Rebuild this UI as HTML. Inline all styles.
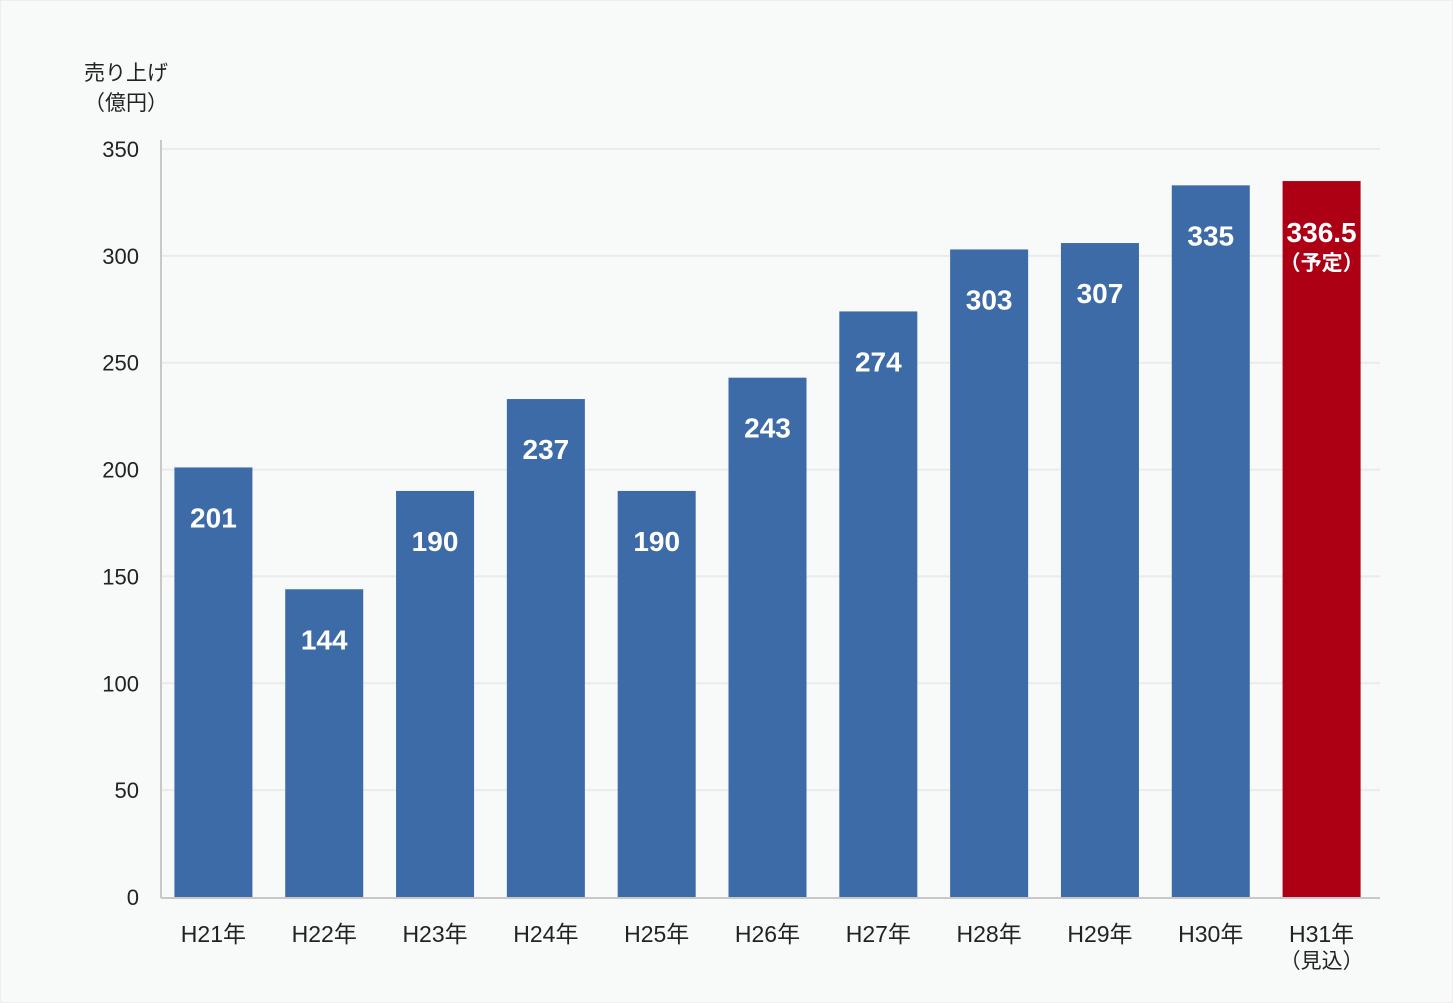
<!DOCTYPE html>
<html><head><meta charset="utf-8"><style>
html,body{margin:0;padding:0;background:#f8f9f9;}
svg{display:block;font-family:"Liberation Sans","Noto Sans CJK JP",sans-serif;}
</style></head><body>
<svg id="chart" width="1453" height="1003" viewBox="0 0 1453 1003" xmlns="http://www.w3.org/2000/svg">
<rect x="0.5" y="0.5" width="1452" height="1002" fill="#f8f9f9" stroke="#eeeeee"/>
<text x="126" y="80" text-anchor="middle" font-size="21" fill="#222">売り上げ</text>
<text x="126" y="110" text-anchor="middle" font-size="21" fill="#222">（億円）</text>
<g id="grid"></g>
<g id="bars"></g>
<line x1="161" y1="140" x2="161" y2="898" stroke="#c8c8c8" stroke-width="2"/>
<line x1="161" y1="898" x2="1380" y2="898" stroke="#c8c8c8" stroke-width="2"/>
</svg>
<script>
const categories=["H21年","H22年","H23年","H24年","H25年","H26年","H27年","H28年","H29年","H30年","H31年"];
const values=[201,144,190,233,190,243,274,303,306,333,335];
const valueLabels=["201","144","190","237","190","243","274","303","307","335","336.5"];
const yTicks=[0,50,100,150,200,250,300,350];
const NS="http://www.w3.org/2000/svg";
const x0=161,x1=1380,yBase=897,yTop=149,yMax=350;
const band=(x1-x0)/categories.length,bw=78;
function y(v){return yBase-(v/yMax)*(yBase-yTop);}
function xc(i){return x0+band*(i+0.5)-3;}
function mk(t,a,p){const e=document.createElementNS(NS,t);for(const k in a)e.setAttribute(k,a[k]);p.appendChild(e);return e;}
const grid=document.getElementById('grid'),bars=document.getElementById('bars');
yTicks.forEach(t=>{
  if(t>0){const l=mk('line',{x1:x0,x2:x1,y1:y(t),y2:y(t),stroke:'#ebebeb','stroke-width':2},grid);
  
  }
  const tx=mk('text',{x:139,y:y(t)+8,'text-anchor':'end','font-size':22,fill:'#222'},grid);
  tx.textContent=t;
  
  
});
categories.forEach((c,i)=>{
  const last=i===categories.length-1;
  const r=mk('rect',{x:xc(i)-bw/2,y:y(values[i]),width:bw,height:yBase-y(values[i]),fill:last?'#ad0014':'#3d6ba7'},bars);
  
  
  const vl=mk('text',{x:xc(i),y:y(values[i])+60,'text-anchor':'middle','font-size':28,'font-weight':'bold',fill:'#fff'},bars);
  vl.textContent=valueLabels[i];
  
  
  if(last){vl.setAttribute('y',y(values[i])+61);
    const s=mk('text',{x:xc(i),y:y(values[i])+89,'text-anchor':'middle','font-size':21,'font-weight':'bold',fill:'#fff'},bars);
    s.textContent='（予定）';
    
    }
  const xl=mk('text',{x:xc(i),y:942,'text-anchor':'middle','font-size':23,fill:'#222'},bars);
  xl.textContent=c;
  
  
  if(last){const s2=mk('text',{x:xc(i),y:968,'text-anchor':'middle','font-size':21,fill:'#222'},bars);
    s2.textContent='（見込）';
    
    }
});
</script>
</body></html>
